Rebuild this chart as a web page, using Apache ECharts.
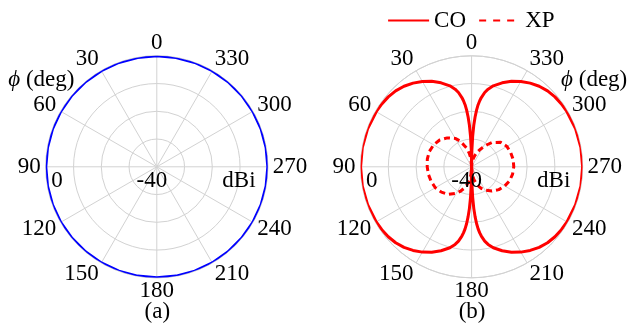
<!DOCTYPE html>
<html>
<head>
<meta charset="utf-8">
<script src="https://cdn.jsdelivr.net/npm/echarts@6/dist/echarts.min.js"></script>
<style>
  html, body { margin: 0; padding: 0; background: #ffffff; }
  #chart { width: 632px; height: 329px; }
</style>
</head>
<body>
<div id="chart"></div>
<script>
// Azimuth ticks (deg) and radial scale (dBi)
const angleTicks = [0, 30, 60, 90, 120, 150, 180, 210, 240, 270, 300, 330];
const radiusMin = -40;
const radiusMax = 0;
const radiusStep = 10;
const radiusTickLabels = ['-40', '0'];
const radiusUnit = 'dBi';
const panelTags = ['(a)', '(b)'];
const legendNames = ['CO', 'XP'];

// (a) omnidirectional pattern, phi (deg) / gain (dBi)
const omniPhi = [0, 10, 20, 30, 40, 50, 60, 70, 80, 90, 100, 110, 120, 130, 140, 150, 160, 170, 180,
  190, 200, 210, 220, 230, 240, 250, 260, 270, 280, 290, 300, 310, 320, 330, 340, 350, 360];
const omniGain = [0, 0, 0, 0, 0, 0, 0, 0, 0, 0, 0, 0, 0, 0, 0, 0, 0, 0, 0,
  0, 0, 0, 0, 0, 0, 0, 0, 0, 0, 0, 0, 0, 0, 0, 0, 0, 0];

// (b) co-polar pattern
const coPhi = [
  0, 1, 2, 3, 4, 5, 6, 7, 8, 10, 12, 15, 20, 25, 30, 35, 40, 45, 50, 55, 60, 70, 80, 90,
  100, 110, 120, 125, 130, 135, 140, 145, 150, 155, 160, 165, 168, 170, 172, 173, 174, 175, 176, 177, 178, 179, 180,
  181, 182, 183, 184, 185, 186, 187, 188, 190, 192, 195, 200, 205, 210, 215, 220, 225, 230, 235, 240, 250, 260, 270,
  280, 290, 300, 305, 310, 315, 320, 325, 330, 335, 340, 345, 348, 350, 352, 353, 354, 355, 356, 357, 358, 359, 360];
const coGain = [
  -40, -34, -29, -25, -22, -19.5, -17.5, -16, -14.8, -12.8, -11.4, -9.8, -7.8, -6, -4.5, -3.2, -2.1, -1.3, -0.8, -0.5, -0.3, -0.1, 0, 0,
  0, -0.1, -0.3, -0.5, -0.8, -1.3, -2.1, -3.2, -4.5, -6, -7.8, -9.8, -11.4, -12.8, -14.8, -16, -17.5, -19.5, -22, -25, -29, -34, -40,
  -34, -29, -25, -22, -19.5, -17.5, -16, -14.8, -12.8, -11.4, -9.8, -7.8, -6, -4.5, -3.2, -2.1, -1.3, -0.8, -0.5, -0.3, -0.1, 0, 0,
  0, -0.1, -0.3, -0.5, -0.8, -1.3, -2.1, -3.2, -4.5, -6, -7.8, -9.8, -11.4, -12.8, -14.8, -16, -17.5, -19.5, -22, -25, -29, -34, -40];

// (b) cross-polar pattern
const xpPhi = [
  0, 5, 10, 15, 20, 25, 30, 40, 50, 60, 70, 80, 90, 100, 110, 120, 130, 140, 150, 155, 160, 165, 170, 175, 180,
  185, 190, 195, 200, 205, 210, 220, 230, 240, 250, 260, 270, 280, 290, 300, 310, 320, 325, 330, 335, 340, 345, 350, 355, 360];
const xpGain = [
  -40, -37, -35, -33, -31.5, -29.6, -28.2, -26.4, -25, -24.2, -23.8, -23.8, -24, -24.2, -24.5, -24.9, -25.8, -27, -29, -30.2, -31.6, -33, -35, -37, -40,
  -37.5, -35.5, -33.8, -32.5, -31.3, -30.3, -28.6, -27.2, -26.2, -25.4, -25, -24.8, -24.8, -25, -25.3, -26.3, -28.6, -30.3, -32, -33.3, -34.6, -36, -37.3, -38.6, -40];

// ---- layout ----
const FONT = 'Liberation Serif';
const FS = 23;
const GRID = '#d2d2d2';
const panels = [
  { cx: 156.8, cy: 166.8, r: 111, nameX: -148.5 },
  { cx: 471.6, cy: 166.8, r: 111, nameX: 89.5 }
];

function pairs(phi, gain) {
  return phi.map((p, i) => [gain[i], p]);
}

const chart = echarts.init(document.getElementById('chart'), null, { renderer: 'canvas', width: 632, height: 329 });

const graphics = [];
function addText(x, y, text, align, extra) {
  graphics.push(Object.assign({
    type: 'text', x: x, y: y, z: 5,
    style: {
      text: text, fill: '#000', fontFamily: FONT, fontSize: FS,
      align: align, verticalAlign: 'middle'
    }
  }, extra || {}));
}

panels.forEach((p, k) => {
  // azimuth labels around the rim
  angleTicks.forEach(a => {
    const s = Math.sin(a * Math.PI / 180);
    const c = Math.cos(a * Math.PI / 180);
    const align = Math.abs(s) < 0.3 ? 'center' : (s > 0 ? 'right' : 'left');
    addText(p.cx - (p.r + 5) * s, p.cy - (p.r + 13) * c, String(a), align);
  });
  // radial tick labels and unit, below the horizontal spoke
  addText(p.cx - 5, p.cy + 14, radiusTickLabels[0], 'center');
  addText(p.cx - p.r * 0.9, p.cy + 14, radiusTickLabels[1], 'center');
  addText(p.cx + p.r * 0.74, p.cy + 14, radiusUnit, 'center');
  // azimuth axis name
  graphics.push({
    type: 'text', x: p.cx + p.nameX, y: p.cy - 87, z: 5,
    style: {
      text: '{i|ϕ} (deg)', fill: '#000', fontFamily: FONT, fontSize: FS,
      align: 'left', verticalAlign: 'middle',
      rich: { i: { fontFamily: FONT, fontSize: FS, fontStyle: 'italic', fill: '#000' } }
    }
  });
  // panel tag
  addText(p.cx + 0.5, 312, panelTags[k], 'center');
});

const option = {
  backgroundColor: '#ffffff',
  animation: false,
  polar: panels.map(p => ({ center: [p.cx, p.cy], radius: p.r })),
  angleAxis: panels.map((p, i) => ({
    polarIndex: i, type: 'value', min: 0, max: 360, interval: 30,
    startAngle: 90, clockwise: false,
    axisLine: { show: true, lineStyle: { color: GRID, width: 1 } },
    axisTick: { show: false },
    axisLabel: { show: false },
    splitLine: { show: true, lineStyle: { color: GRID, width: 1 } }
  })),
  radiusAxis: panels.map((p, i) => ({
    polarIndex: i, type: 'value', min: radiusMin, max: radiusMax, interval: radiusStep,
    axisLine: { show: false },
    axisTick: { show: false },
    axisLabel: { show: false },
    splitLine: { show: true, lineStyle: { color: GRID, width: 1 } }
  })),
  legend: {
    data: [
      { name: legendNames[0] },
      { name: legendNames[1], lineStyle: { type: [7, 7] } }
    ],
    left: 382, top: 4,
    itemWidth: 41, itemHeight: 14, itemGap: 12,
    lineStyle: { width: 2.2 },
    itemStyle: { opacity: 0 },
    textStyle: { fontFamily: FONT, fontSize: FS, color: '#000' }
  },
  series: [
    {
      name: 'Omni', type: 'line', coordinateSystem: 'polar', polarIndex: 0,
      data: pairs(omniPhi, omniGain), symbol: 'none', clip: false, silent: true,
      itemStyle: { color: '#0000ff' },
      lineStyle: { color: '#0000ff', width: 3 }
    },
    {
      name: legendNames[0], type: 'line', coordinateSystem: 'polar', polarIndex: 1,
      data: pairs(coPhi, coGain), symbol: 'none', clip: false, silent: true,
      itemStyle: { color: '#ff0000' },
      lineStyle: { color: '#ff0000', width: 3 }
    },
    {
      name: legendNames[1], type: 'line', coordinateSystem: 'polar', polarIndex: 1,
      data: pairs(xpPhi, xpGain), symbol: 'none', clip: false, silent: true,
      itemStyle: { color: '#ff0000' },
      lineStyle: { color: '#ff0000', width: 3, type: [6, 4] }
    }
  ],
  graphic: graphics
};

chart.setOption(option);
</script>
</body>
</html>
